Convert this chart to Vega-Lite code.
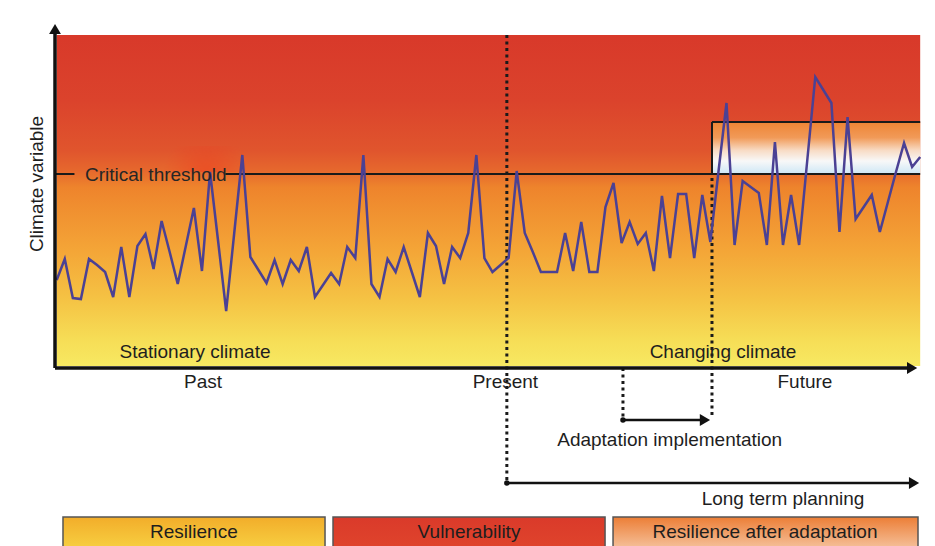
{
  "$schema": "https://vega.github.io/schema/vega-lite/v6.json",
  "width": 935,
  "height": 546,
  "padding": 0,
  "autosize": {"type": "none"},
  "background": "white",
  "config": {"view": {"stroke": null}},
  "datasets": {
    "bg": [{"t1": 0, "t2": 107, "v1": 2, "v2": 333}],
    "glow": [{"t1": 12.5, "t2": 23.5, "v1": 196, "v2": 222}],
    "adapt": [{"t1": 81.2, "t2": 107, "v1": 194, "v2": 246}],
    "thin_rules": [
      {"t1": -0.2, "t2": 2.2, "v1": 194, "v2": 194},
      {"t1": 20.9, "t2": 107, "v1": 194, "v2": 194},
      {"t1": 81.2, "t2": 107, "v1": 246, "v2": 246},
      {"t1": 81.2, "t2": 81.2, "v1": 194, "v2": 246}
    ],
    "dotted": [
      {"t1": 55.78, "t2": 55.78, "v1": 333, "v2": -117},
      {"t1": 70.17, "t2": 70.17, "v1": 0, "v2": -52},
      {"t1": 81.2, "t2": 81.2, "v1": 190, "v2": -50}
    ],
    "climate": [
      {"t": 0, "v": 88}, {"t": 1, "v": 109}, {"t": 2, "v": 70}, {"t": 3, "v": 69}, {"t": 4, "v": 109},
      {"t": 5, "v": 103}, {"t": 6, "v": 96}, {"t": 7, "v": 71}, {"t": 8, "v": 121}, {"t": 9, "v": 71},
      {"t": 10, "v": 122}, {"t": 11, "v": 134}, {"t": 12, "v": 99}, {"t": 13, "v": 147}, {"t": 14, "v": 116},
      {"t": 15, "v": 84}, {"t": 16, "v": 122}, {"t": 17, "v": 160}, {"t": 18, "v": 97}, {"t": 19, "v": 196},
      {"t": 20, "v": 127}, {"t": 21, "v": 57}, {"t": 22, "v": 135}, {"t": 23, "v": 213}, {"t": 24, "v": 111},
      {"t": 25, "v": 98}, {"t": 26, "v": 85}, {"t": 27, "v": 108}, {"t": 28, "v": 84}, {"t": 29, "v": 108},
      {"t": 30, "v": 97}, {"t": 31, "v": 121}, {"t": 32, "v": 71}, {"t": 33, "v": 83}, {"t": 34, "v": 95},
      {"t": 35, "v": 84}, {"t": 36, "v": 121}, {"t": 37, "v": 110}, {"t": 38, "v": 213}, {"t": 39, "v": 84},
      {"t": 40, "v": 71}, {"t": 41, "v": 109}, {"t": 42, "v": 96}, {"t": 43, "v": 121}, {"t": 44, "v": 96},
      {"t": 45, "v": 71}, {"t": 46, "v": 135}, {"t": 47, "v": 122}, {"t": 48, "v": 84}, {"t": 49, "v": 121},
      {"t": 50, "v": 110}, {"t": 51, "v": 135}, {"t": 52, "v": 213}, {"t": 53, "v": 110}, {"t": 54, "v": 96},
      {"t": 55, "v": 103}, {"t": 56, "v": 110}, {"t": 57, "v": 197}, {"t": 58, "v": 135}, {"t": 59, "v": 116},
      {"t": 60, "v": 96}, {"t": 61, "v": 96}, {"t": 62, "v": 96}, {"t": 63, "v": 135}, {"t": 64, "v": 97},
      {"t": 65, "v": 146}, {"t": 66, "v": 96}, {"t": 67, "v": 96}, {"t": 68, "v": 161}, {"t": 69, "v": 185},
      {"t": 70, "v": 125}, {"t": 71, "v": 146}, {"t": 72, "v": 124}, {"t": 73, "v": 135}, {"t": 74, "v": 97},
      {"t": 75, "v": 172}, {"t": 76, "v": 110}, {"t": 77, "v": 174}, {"t": 78, "v": 174}, {"t": 79, "v": 110},
      {"t": 80, "v": 173}, {"t": 81, "v": 126}, {"t": 82, "v": 196}, {"t": 83, "v": 265}, {"t": 84, "v": 123},
      {"t": 85, "v": 187}, {"t": 86, "v": 181}, {"t": 87, "v": 175}, {"t": 88, "v": 123}, {"t": 89, "v": 226},
      {"t": 90, "v": 123}, {"t": 91, "v": 173}, {"t": 92, "v": 123}, {"t": 93, "v": 207}, {"t": 94, "v": 291},
      {"t": 95, "v": 278}, {"t": 96, "v": 265}, {"t": 97, "v": 136}, {"t": 98, "v": 251}, {"t": 99, "v": 149},
      {"t": 100, "v": 161}, {"t": 101, "v": 173}, {"t": 102, "v": 136}, {"t": 103, "v": 166}, {"t": 104, "v": 196},
      {"t": 105, "v": 225}, {"t": 106, "v": 201}, {"t": 107, "v": 211}
    ],
    "axes": [
      {"t1": -0.21, "t2": 105.8, "v1": 0, "v2": 0},
      {"t1": -0.21, "t2": -0.21, "v1": 0, "v2": 335}
    ],
    "arrows": [
      {"t1": 70.17, "t2": 80.2, "v1": -52, "v2": -52},
      {"t1": 55.78, "t2": 106, "v1": -115, "v2": -115}
    ],
    "heads_right": [{"t": 106.0, "v": 0}, {"t": 80.33, "v": -52}, {"t": 106.24, "v": -115}],
    "heads_up": [{"t": -0.21, "v": 339}],
    "dots": [{"t": 55.78, "v": -115}, {"t": 70.17, "v": -52}],
    "labels": [
      {"label": "Past", "t": 18.13, "v": -14},
      {"label": "Present", "t": 55.6, "v": -14},
      {"label": "Future", "t": 92.72, "v": -14},
      {"label": "Stationary climate", "t": 17.14, "v": 16},
      {"label": "Changing climate", "t": 82.57, "v": 16},
      {"label": "Adaptation implementation", "t": 75.96, "v": -72},
      {"label": "Long term planning", "t": 90.0, "v": -131},
      {"label": "Resilience", "t": 17.0, "v": -164},
      {"label": "Vulnerability", "t": 51.09, "v": -164},
      {"label": "Resilience after adaptation", "t": 87.77, "v": -164}
    ],
    "threshold_label": [{"label": "Critical threshold", "t": 3.51, "v": 193}],
    "y_title": [{"label": "Climate variable", "t": -2.44, "v": 184}],
    "leg_res": [{"t1": 0.78, "t2": 33.25, "v1": -149, "v2": -195}],
    "leg_vul": [{"t1": 34.24, "t2": 67.95, "v1": -149, "v2": -195}],
    "leg_aft": [{"t1": 68.94, "t2": 106.73, "v1": -149, "v2": -195}]
  },
  "layer": [
    {
      "data": {"name": "bg"},
      "mark": {"type": "rect", "fill": {"gradient": "linear", "x1": 0, "y1": 0, "x2": 0, "y2": 1, "stops": [
        {"offset": 0, "color": "#d8392a"},
        {"offset": 0.2, "color": "#db432c"},
        {"offset": 0.35, "color": "#e0552d"},
        {"offset": 0.41, "color": "#e6682d"},
        {"offset": 0.46, "color": "#ee842c"},
        {"offset": 0.65, "color": "#f4a537"},
        {"offset": 0.8, "color": "#f5c344"},
        {"offset": 0.92, "color": "#f6dd56"},
        {"offset": 1, "color": "#f7e962"}
      ]}},
      "encoding": {
        "x": {"field": "t1", "type": "quantitative", "scale": {"domain": [-7.026, 108.836], "nice": false, "zero": false}, "axis": null},
        "x2": {"field": "t2"},
        "y": {"field": "v1", "type": "quantitative", "scale": {"domain": [-178, 368], "nice": false, "zero": false}, "axis": null},
        "y2": {"field": "v2"}
      }
    },
    {
      "data": {"name": "glow"},
      "mark": {"type": "rect", "fill": {"gradient": "radial", "x1": 0.55, "y1": 0.7, "r1": 0, "x2": 0.55, "y2": 0.7, "r2": 0.5, "stops": [
        {"offset": 0, "color": "rgba(240,45,25,0.45)"},
        {"offset": 1, "color": "rgba(240,60,30,0)"}
      ]}},
      "encoding": {
        "x": {"field": "t1", "type": "quantitative", "axis": null},
        "x2": {"field": "t2"},
        "y": {"field": "v1", "type": "quantitative", "axis": null},
        "y2": {"field": "v2"}
      }
    },
    {
      "data": {"name": "adapt"},
      "mark": {"type": "rect", "fill": {"gradient": "linear", "x1": 0, "y1": 0, "x2": 0, "y2": 1, "stops": [
        {"offset": 0, "color": "#ee8434"},
        {"offset": 0.3, "color": "#f19a58"},
        {"offset": 0.55, "color": "#f8dcc6"},
        {"offset": 0.75, "color": "#f8f8f8"},
        {"offset": 1, "color": "#cde7f6"}
      ]}},
      "encoding": {
        "x": {"field": "t1", "type": "quantitative", "axis": null},
        "x2": {"field": "t2"},
        "y": {"field": "v1", "type": "quantitative", "axis": null},
        "y2": {"field": "v2"}
      }
    },
    {
      "data": {"name": "thin_rules"},
      "mark": {"type": "rule", "color": "#1a1a1a", "strokeWidth": 2},
      "encoding": {
        "x": {"field": "t1", "type": "quantitative", "axis": null},
        "x2": {"field": "t2"},
        "y": {"field": "v1", "type": "quantitative", "axis": null},
        "y2": {"field": "v2"}
      }
    },
    {
      "data": {"name": "dotted"},
      "mark": {"type": "rule", "color": "#1a1a1a", "strokeWidth": 3, "strokeDash": [3, 3.5]},
      "encoding": {
        "x": {"field": "t1", "type": "quantitative", "axis": null},
        "x2": {"field": "t2"},
        "y": {"field": "v1", "type": "quantitative", "axis": null},
        "y2": {"field": "v2"}
      }
    },
    {
      "data": {"name": "climate"},
      "mark": {"type": "line", "color": "#4b4194", "strokeWidth": 2.5, "strokeJoin": "miter"},
      "encoding": {
        "x": {"field": "t", "type": "quantitative", "axis": null},
        "y": {"field": "v", "type": "quantitative", "axis": null}
      }
    },
    {
      "data": {"name": "axes"},
      "mark": {"type": "rule", "color": "#111111", "strokeWidth": 3.5},
      "encoding": {
        "x": {"field": "t1", "type": "quantitative", "axis": null},
        "x2": {"field": "t2"},
        "y": {"field": "v1", "type": "quantitative", "axis": null},
        "y2": {"field": "v2"}
      }
    },
    {
      "data": {"name": "arrows"},
      "mark": {"type": "rule", "color": "#111111", "strokeWidth": 2.5},
      "encoding": {
        "x": {"field": "t1", "type": "quantitative", "axis": null},
        "x2": {"field": "t2"},
        "y": {"field": "v1", "type": "quantitative", "axis": null},
        "y2": {"field": "v2"}
      }
    },
    {
      "data": {"name": "heads_right"},
      "mark": {"type": "point", "shape": "triangle-right", "filled": true, "color": "#111111", "size": 140, "opacity": 1},
      "encoding": {
        "x": {"field": "t", "type": "quantitative", "axis": null},
        "y": {"field": "v", "type": "quantitative", "axis": null}
      }
    },
    {
      "data": {"name": "heads_up"},
      "mark": {"type": "point", "shape": "triangle-up", "filled": true, "color": "#111111", "size": 140, "opacity": 1},
      "encoding": {
        "x": {"field": "t", "type": "quantitative", "axis": null},
        "y": {"field": "v", "type": "quantitative", "axis": null}
      }
    },
    {
      "data": {"name": "dots"},
      "mark": {"type": "point", "shape": "circle", "filled": true, "color": "#111111", "size": 30, "opacity": 1},
      "encoding": {
        "x": {"field": "t", "type": "quantitative", "axis": null},
        "y": {"field": "v", "type": "quantitative", "axis": null}
      }
    },
    {
      "data": {"name": "leg_res"},
      "mark": {"type": "rect", "stroke": "#555555", "strokeWidth": 1.5, "fill": {"gradient": "linear", "x1": 0, "y1": 0, "x2": 0, "y2": 1, "stops": [
        {"offset": 0, "color": "#f2ad2a"},
        {"offset": 1, "color": "#f9df4c"}
      ]}},
      "encoding": {
        "x": {"field": "t1", "type": "quantitative", "axis": null},
        "x2": {"field": "t2"},
        "y": {"field": "v1", "type": "quantitative", "axis": null},
        "y2": {"field": "v2"}
      }
    },
    {
      "data": {"name": "leg_vul"},
      "mark": {"type": "rect", "stroke": "#555555", "strokeWidth": 1.5, "fill": {"gradient": "linear", "x1": 0, "y1": 0, "x2": 0, "y2": 1, "stops": [
        {"offset": 0, "color": "#da3a2a"},
        {"offset": 1, "color": "#e2492d"}
      ]}},
      "encoding": {
        "x": {"field": "t1", "type": "quantitative", "axis": null},
        "x2": {"field": "t2"},
        "y": {"field": "v1", "type": "quantitative", "axis": null},
        "y2": {"field": "v2"}
      }
    },
    {
      "data": {"name": "leg_aft"},
      "mark": {"type": "rect", "stroke": "#555555", "strokeWidth": 1.5, "fill": {"gradient": "linear", "x1": 0, "y1": 0, "x2": 0, "y2": 1, "stops": [
        {"offset": 0, "color": "#ec7e36"},
        {"offset": 0.6, "color": "#f4b98f"},
        {"offset": 1, "color": "#f8dcc8"}
      ]}},
      "encoding": {
        "x": {"field": "t1", "type": "quantitative", "axis": null},
        "x2": {"field": "t2"},
        "y": {"field": "v1", "type": "quantitative", "axis": null},
        "y2": {"field": "v2"}
      }
    },
    {
      "data": {"name": "labels"},
      "mark": {"type": "text", "font": "Liberation Sans", "fontSize": 19, "color": "#1e1e1e", "align": "center", "baseline": "middle"},
      "encoding": {
        "x": {"field": "t", "type": "quantitative", "axis": null},
        "y": {"field": "v", "type": "quantitative", "axis": null},
        "text": {"field": "label"}
      }
    },
    {
      "data": {"name": "threshold_label"},
      "mark": {"type": "text", "font": "Liberation Sans", "fontSize": 19, "color": "#262626", "align": "left", "baseline": "middle"},
      "encoding": {
        "x": {"field": "t", "type": "quantitative", "axis": null},
        "y": {"field": "v", "type": "quantitative", "axis": null},
        "text": {"field": "label"}
      }
    },
    {
      "data": {"name": "y_title"},
      "mark": {"type": "text", "font": "Liberation Sans", "fontSize": 19, "color": "#1e1e1e", "align": "center", "baseline": "middle", "angle": 270},
      "encoding": {
        "x": {"field": "t", "type": "quantitative", "axis": null},
        "y": {"field": "v", "type": "quantitative", "axis": null},
        "text": {"field": "label"}
      }
    }
  ]
}
